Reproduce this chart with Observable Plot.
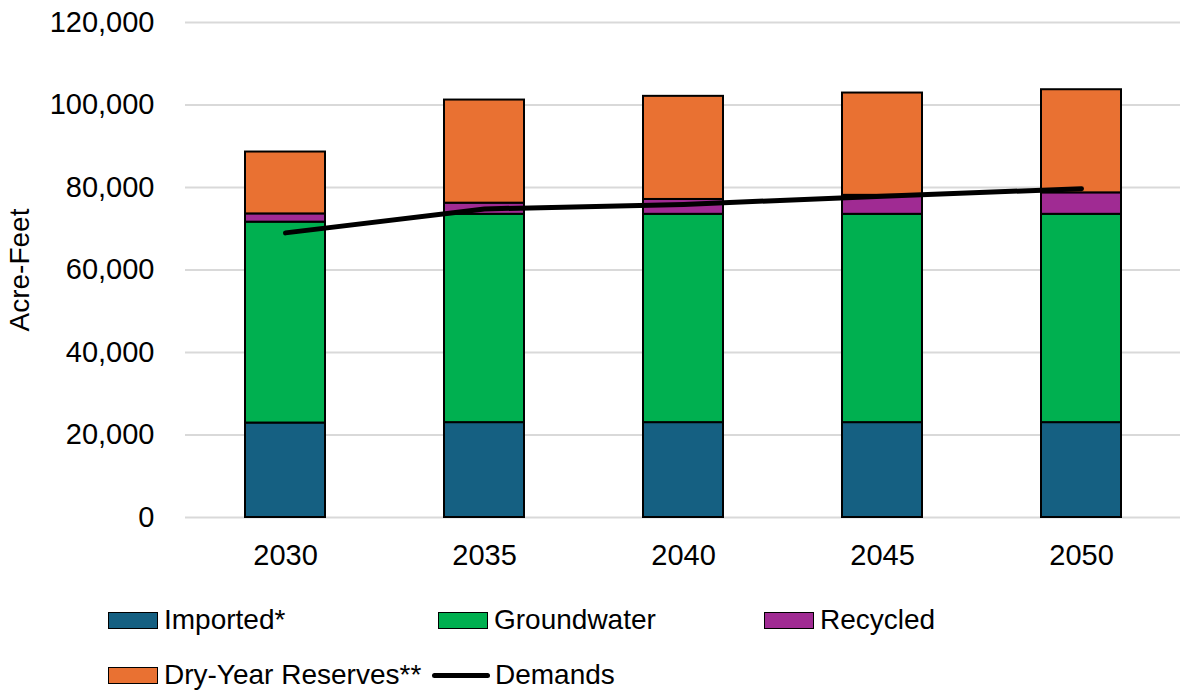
<!DOCTYPE html>
<html><head><meta charset="utf-8">
<script src="https://cdn.jsdelivr.net/npm/d3@7"></script>
<script src="https://cdn.jsdelivr.net/npm/@observablehq/plot@0.6"></script>
<style>
body{margin:0;background:#fff;font-family:"Liberation Sans",Arial,sans-serif;}
#wrap{position:relative;width:1180px;height:690px;overflow:hidden;}
.leg{position:absolute;display:flex;align-items:center;height:30px;font-size:28px;color:#000;white-space:nowrap;}
.sw{width:50px;height:17px;border:1.5px solid #000;margin-right:6px;box-sizing:border-box}
.ln{width:58px;height:5px;background:#000;border-radius:3px;margin-right:5px}
</style></head><body><div id="wrap"><div id="chart"></div></div>
<script>
const years = ["2030", "2035", "2040", "2045", "2050"];
const imported = [22900, 23000, 23000, 23000, 23000];
const groundwater = [48700, 50500, 50500, 50500, 50500];
const recycled = [2000, 2700, 3600, 4600, 5200];
const reserves = [15000, 25000, 25000, 24800, 25000];
const demands = [69000, 74800, 75900, 77900, 79700];
const seriesNames = ["Imported*", "Groundwater", "Recycled", "Dry-Year Reserves**"];
const seriesColors = ["#156082", "#00b050", "#a02b93", "#e97132"];
const lineName = "Demands";
const yTicks = [0, 20000, 40000, 60000, 80000, 100000, 120000];

const seriesValues = [imported, groundwater, recycled, reserves];
const rows = [];
seriesNames.forEach((s, si) => years.forEach((y, i) => rows.push({year: y, series: s, value: seriesValues[si][i]})));
const dem = years.map((y, i) => ({year: y, value: demands[i]}));

const chart = Plot.plot({
  width: 1180, height: 580,
  marginLeft: 185, marginRight: 0, marginTop: 22, marginBottom: 63,
  style: {fontFamily: "'Liberation Sans', Arial, sans-serif", fontSize: "29px", color: "#000", background: "#fff", overflow: "visible"},
  x: {domain: years, paddingInner: 0.6, paddingOuter: 0.3, label: null},
  y: {domain: [0, 120000], label: null},
  color: {domain: seriesNames, range: seriesColors},
  marks: [
    Plot.gridY(yTicks, {stroke: "#d9d9d9", strokeOpacity: 1, strokeWidth: 2}),
    Plot.axisY(yTicks, {tickSize: 0, tickPadding: 31, tickFormat: d3.format(","), fontSize: 29,
      label: null}),
    Plot.axisY({ticks: [], tickSize: 0, label: "Acre-Feet", labelAnchor: "center", labelArrow: "none", labelOffset: 176, fontSize: 28}),
    Plot.axisX({tickSize: 0, tickPadding: 27, label: null, fontSize: 29}),
    Plot.barY(rows, Plot.stackY({x: "year", y: "value", fill: "series", order: seriesNames, stroke: "#000", strokeWidth: 2})),
    Plot.line(dem, {x: "year", y: "value", stroke: "#000", strokeWidth: 5, strokeLinecap: "round"})
  ]
});
document.getElementById("chart").appendChild(chart);

const wrap = document.getElementById("wrap");
const legendPos = [[108, 605], [438, 605], [764, 605], [108, 660]];
seriesNames.forEach((s, i) => {
  const d = document.createElement("div");
  d.className = "leg";
  d.style.left = legendPos[i][0] + "px"; d.style.top = legendPos[i][1] + "px";
  d.innerHTML = `<span class="sw" style="background:${seriesColors[i]}"></span><span></span>`;
  d.lastChild.textContent = s;
  wrap.appendChild(d);
});
const dl = document.createElement("div");
dl.className = "leg"; dl.style.left = "432px"; dl.style.top = "660px";
dl.innerHTML = `<span class="ln"></span><span></span>`;
dl.lastChild.textContent = lineName;
wrap.appendChild(dl);
</script></body></html>
